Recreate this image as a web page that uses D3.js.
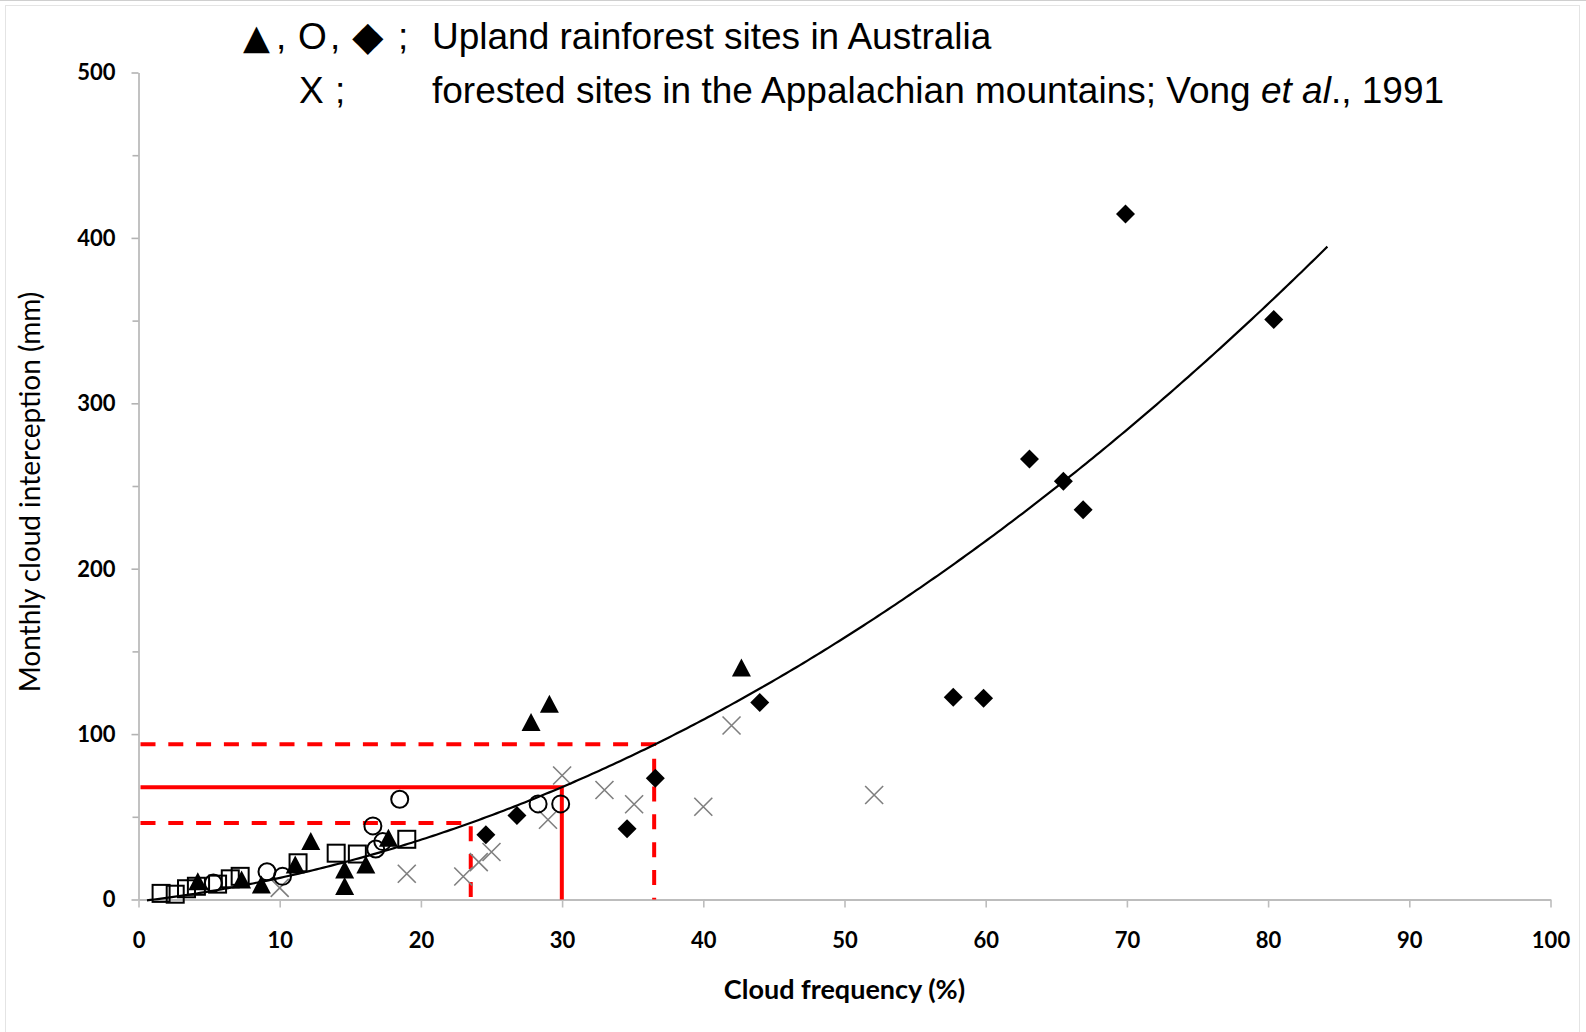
<!DOCTYPE html>
<html>
<head>
<meta charset="utf-8">
<script src="https://cdn.jsdelivr.net/npm/d3@7"></script>
<style>
  html, body { margin: 0; padding: 0; background: #fff; }
  svg { display: block; }
</style>
</head>
<body>
<svg id="chart" width="1586" height="1032"></svg>
<script>
// Cloud frequency (%) vs monthly cloud interception (mm)
const triangleSites = [[4.2,10.8],[7.3,11.8],[8.7,8.8],[11.1,20.9],[12.2,35.0],[14.6,7.8],[14.6,17.8],[16.1,20.9],[17.7,37.0],[27.8,107.0],[29.1,118.0],[42.7,140.0]];
const circleSites = [[5.3,10.0],[9.1,16.8],[10.2,14.0],[16.8,30.5],[17.3,35.0],[16.6,44.5],[18.5,60.6],[28.3,57.8],[29.9,57.8]];
const diamondSites = [[24.6,39.2],[26.8,50.8],[34.6,42.8],[36.6,73.3],[44.0,119.1],[57.7,122.3],[59.85,121.7],[63.1,266.3],[65.5,252.8],[66.9,235.6],[69.9,414.5],[80.4,350.6]];
const squareSites = [[1.6,3.7],[2.6,3.2],[3.4,6.5],[4.1,8.0],[5.6,9.3],[6.5,12.5],[7.2,14.0],[11.3,22.2],[14.0,28.0],[15.5,27.5],[19.0,36.4]];
const appalachianSites = [[10.0,7.0],[19.0,15.6],[23.0,13.9],[24.1,22.6],[25.0,28.7],[29.0,48.2],[30.0,75.0],[33.0,66.2],[35.1,57.6],[40.0,56.1],[42.0,105.2],[52.1,63.2]];

// quadratic trend line: y = a*x^2 + b*x + c, drawn over its fitted x range
const trendCoefficients = [0.04423, 0.977, -1.12];
const trendRange = [0.6, 84.2];

// reference lines (frequency, interception)
const refSolid = [29.98, 67.9];
const refDashedLow = [23.53, 46.3];
const refDashedHigh = [36.52, 93.9];

const xTicks = [0,10,20,30,40,50,60,70,80,90,100];
const yTicks = [0,100,200,300,400,500];
const yMinorTicks = [50,150,250,350,450];

const svg = d3.select("#chart");

// outer frame
svg.append("line").attr("x1",0).attr("x2",1586).attr("y1",0.5).attr("y2",0.5)
  .attr("stroke","#cfcfcf").attr("stroke-width",1);
svg.append("rect").attr("x",5.5).attr("y",5.5).attr("width",1574).attr("height",1040)
  .attr("fill","none").attr("stroke","#e4e4e4").attr("stroke-width",1);

const x = d3.scaleLinear().domain([0,100]).range([138.5,1550.5]);
const y = d3.scaleLinear().domain([0,500]).range([899.5,72.5]);

const tickFont = "Lato, 'Open Sans', sans-serif";

// y axis
const yAxis = svg.append("g").attr("transform",`translate(${x(0)},0)`)
  .call(d3.axisLeft(y).tickValues(yTicks).tickSize(7).tickSizeOuter(0).tickPadding(16).tickFormat(d3.format("d")));
yAxis.append("g").call(d3.axisLeft(y).tickValues(yMinorTicks).tickSize(6).tickSizeOuter(0).tickFormat(""))
  .select(".domain").remove();
yAxis.selectAll("path.domain").attr("stroke","#b3b3b3").attr("stroke-width",1.6);
yAxis.selectAll(".tick line").attr("stroke","#b3b3b3").attr("stroke-width",1.6);
yAxis.selectAll(".tick text").attr("font-family",tickFont).attr("font-weight",700)
  .attr("font-size",22).attr("fill","#000").attr("dy","0.34em");

// x axis
const xAxis = svg.append("g").attr("transform",`translate(0,${y(0)})`)
  .call(d3.axisBottom(x).tickValues(xTicks).tickSize(8).tickSizeOuter(0).tickFormat(d3.format("d")));
xAxis.selectAll("path.domain").attr("stroke","#bdbdbd").attr("stroke-width",2);
xAxis.selectAll(".tick line").attr("stroke","#bdbdbd").attr("stroke-width",1.6);
xAxis.selectAll(".tick text").attr("font-family",tickFont).attr("font-weight",700)
  .attr("font-size",22).attr("fill","#000").attr("y",41).attr("dy","0.34em");

// axis titles
svg.append("text").attr("x",844.5).attr("y",999).attr("text-anchor","middle")
  .attr("font-family",tickFont).attr("font-weight",700).attr("font-size",27)
  .text("Cloud frequency (%)");
svg.append("text").attr("transform","translate(40,492) rotate(-90)").attr("text-anchor","middle")
  .attr("font-family",tickFont).attr("font-size",28)
  .text("Monthly cloud interception (mm)");

// red reference lines
const refPath = ([fx, fy]) => `M${x(0)+2},${y(fy)}H${x(fx)}V${y(0)}`;
const refs = svg.append("g").attr("fill","none").attr("stroke","#ff0000").attr("stroke-width",4);
refs.append("path").attr("d",refPath(refDashedHigh)).attr("stroke-dasharray","15,12.8");
refs.append("path").attr("d",refPath(refSolid));
refs.append("path").attr("d",refPath(refDashedLow)).attr("stroke-dasharray","15,12.8");

// markers
const marks = svg.append("g");
const place = d => `translate(${x(d[0])},${y(d[1])})`;

marks.selectAll(".appal").data(appalachianSites).join("path").attr("class","appal")
  .attr("transform",place).attr("d","M-9,-9L9,9M-9,9L9,-9")
  .attr("stroke","#7f7f7f").attr("stroke-width",1.6).attr("fill","none");

marks.selectAll(".square").data(squareSites).join("rect").attr("class","square")
  .attr("transform",place).attr("x",-8.5).attr("y",-8.5).attr("width",17).attr("height",17)
  .attr("fill","none").attr("stroke","#000").attr("stroke-width",2);

marks.selectAll(".circle").data(circleSites).join("circle").attr("class","circle")
  .attr("transform",place).attr("r",8.5)
  .attr("fill","none").attr("stroke","#000").attr("stroke-width",2);

marks.selectAll(".tri").data(triangleSites).join("path").attr("class","tri")
  .attr("transform",place).attr("d","M0,-9.5L9.5,8.5L-9.5,8.5Z").attr("fill","#000");

marks.selectAll(".dia").data(diamondSites).join("path").attr("class","dia")
  .attr("transform",place).attr("d","M0,-9.5L9.5,0L0,9.5L-9.5,0Z").attr("fill","#000");

// trend line
const trendXs = d3.range(trendRange[0], trendRange[1], 0.25).concat([trendRange[1]]);
const trend = xv => trendCoefficients[0]*xv*xv + trendCoefficients[1]*xv + trendCoefficients[2];
svg.append("path").datum(trendXs)
  .attr("d", d3.line().x(d => x(d)).y(d => y(trend(d))))
  .attr("fill","none").attr("stroke","#000").attr("stroke-width",2.2);

// legend
const legendFont = "'Liberation Sans', Arial, 'DejaVu Sans', sans-serif";
const lg = svg.append("g").attr("font-family",legendFont).attr("font-size",37).attr("fill","#000");
const sym = "'DejaVu Sans', sans-serif";
lg.append("text").attr("x",243).attr("y",49).attr("font-family",sym).attr("font-size",35).text("▲");
lg.append("text").attr("x",276).attr("y",49).text(",");
lg.append("text").attr("x",298).attr("y",49).text("O");
lg.append("text").attr("x",330).attr("y",49).text(",");
lg.append("text").attr("x",352).attr("y",50).attr("font-family",sym).attr("font-size",41).text("◆");
lg.append("text").attr("x",398).attr("y",49).text(";");
lg.append("text").attr("x",432).attr("y",49).text("Upland rainforest sites in Australia");
lg.append("text").attr("x",299).attr("y",103).text("X");
lg.append("text").attr("x",335).attr("y",103).text(";");
const line2 = lg.append("text").attr("x",432).attr("y",103);
line2.append("tspan").text("forested sites in the Appalachian mountains; Vong ");
line2.append("tspan").attr("font-style","italic").text("et al");
line2.append("tspan").text("., 1991");
</script>
</body>
</html>
